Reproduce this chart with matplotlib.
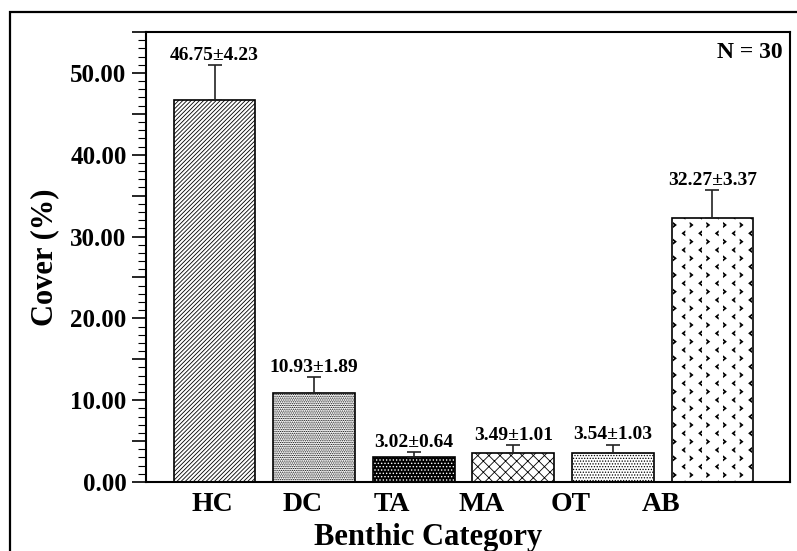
import warnings
import numpy as np
import matplotlib
matplotlib.use("Agg")
import matplotlib.pyplot as plt
import matplotlib.hatch as mhatch
from matplotlib.path import Path
from matplotlib.patches import Rectangle
from matplotlib.ticker import MultipleLocator, FuncFormatter

warnings.filterwarnings("ignore", message="hatch must consist")

# === Data ===
categories = ["HC", "DC", "TA", "MA", "OT", "AB"]
cover = [46.75, 10.93, 3.02, 3.49, 3.54, 32.27]
sem = [4.23, 1.89, 0.64, 1.01, 1.03, 3.37]
sample_n = 30


# === custom "< >" hatch for the AB bar ===
# rows of '<' with rows of '>' shifted half a cell in between
class Chevrons(mhatch.HatchPatternBase):
    def __init__(self, hatch, density):
        self.n = hatch.count('<') * 6
        self.shape = np.array([(0.016, 0.022), (-0.012, 0.0), (0.016, -0.022),
                               (0.016, -0.011), (0.003, 0.0), (0.016, 0.011), (0.016, 0.022)])
        if self.n == 0:
            self.num_vertices = 0
        else:
            self.num_vertices = (self.n + 1) * (self.n + 1) * 2 * len(self.shape)

    def set_vertices_and_codes(self, vertices, codes):
        k = len(self.shape)
        flipped = self.shape * [-1, 1]
        pos = 0
        for i in range(self.n + 1):
            for j in range(self.n + 1):
                for shp, dx, dy in ((self.shape, 0.0, 0.0), (flipped, 0.5, 0.5)):
                    vertices[pos:pos + k] = shp + [(i + dx) / self.n, (j + dy) / self.n]
                    codes[pos:pos + k] = Path.LINETO
                    codes[pos] = Path.MOVETO
                    codes[pos + k - 1] = Path.CLOSEPOLY
                    pos += k


mhatch._hatch_types.append(Chevrons)

plt.rcParams['font.family'] = ['Liberation Serif', 'DejaVu Serif']
plt.rcParams['font.weight'] = 'bold'
plt.rcParams['hatch.linewidth'] = 0.6

fig = plt.figure(figsize=(7.97, 5.51), dpi=100)
ax = fig.add_axes([146 / 797, 1 - 482 / 551, 644 / 797, 450 / 551])

x = np.arange(len(categories))
width = 0.82
hatches = ['/' * 8, '.' * 9, '.' * 5, 'xxx', '.' * 6, '<']

for i in range(len(categories)):
    if categories[i] == "TA":
        # black bar with white dots
        ax.bar(x[i], cover[i], width, color='black', edgecolor='white', hatch=hatches[i], linewidth=0)
        ax.bar(x[i], cover[i], width, fill=False, edgecolor='black', linewidth=1.2)
    else:
        ax.bar(x[i], cover[i], width, color='white', edgecolor='black', hatch=hatches[i], linewidth=1.2)

ax.errorbar(x, cover, yerr=[np.zeros(len(sem)), sem], fmt='none', ecolor='#222222',
            elinewidth=1.2, capsize=5, capthick=1.2)

for i in range(len(categories)):
    ax.annotate(f"{cover[i]:.2f}±{sem[i]:.2f}", (x[i], cover[i] + sem[i]),
                xytext=(0, 1), textcoords='offset points', ha='center', va='bottom',
                fontsize=14, fontweight='bold')

ax.text(0.988, 0.978, f"N = {sample_n}", transform=ax.transAxes, ha='right', va='top',
        fontsize=17, fontweight='bold')

ax.set_xlim(-0.69, 5.78)
ax.set_ylim(0, 55)

# tick labels sit a bit left of the bars, like the original
ax.set_xticks(x * 0.9 - 0.02)
ax.set_xticklabels(categories, fontsize=20, fontweight='bold')
ax.tick_params(axis='x', length=0, pad=7)

ax.yaxis.set_major_locator(MultipleLocator(5))
ax.yaxis.set_minor_locator(MultipleLocator(1))
ax.yaxis.set_major_formatter(FuncFormatter(lambda v, p: f"{v:.2f}" if round(v) % 10 == 0 else ""))
ax.tick_params(axis='y', which='major', length=10, width=1.2, direction='out', labelsize=18, pad=4)
ax.tick_params(axis='y', which='minor', length=6, width=0.8, direction='out')

for s in ax.spines.values():
    s.set_linewidth(1.5)

ax.set_ylabel("Cover (%)", fontsize=22, fontweight='bold', labelpad=8)
ax.set_xlabel("Benthic Category", fontsize=22, fontweight='bold')
ax.xaxis.set_label_coords((428 - 146) / 644, -0.09)

# outer frame of the figure
fig.add_artist(Rectangle((10 / 797, -0.1), 1.0, 1.1 - 12 / 551, transform=fig.transFigure,
                         fill=False, edgecolor='black', linewidth=1.6, clip_on=False))

fig.savefig("out.png", dpi=100)
